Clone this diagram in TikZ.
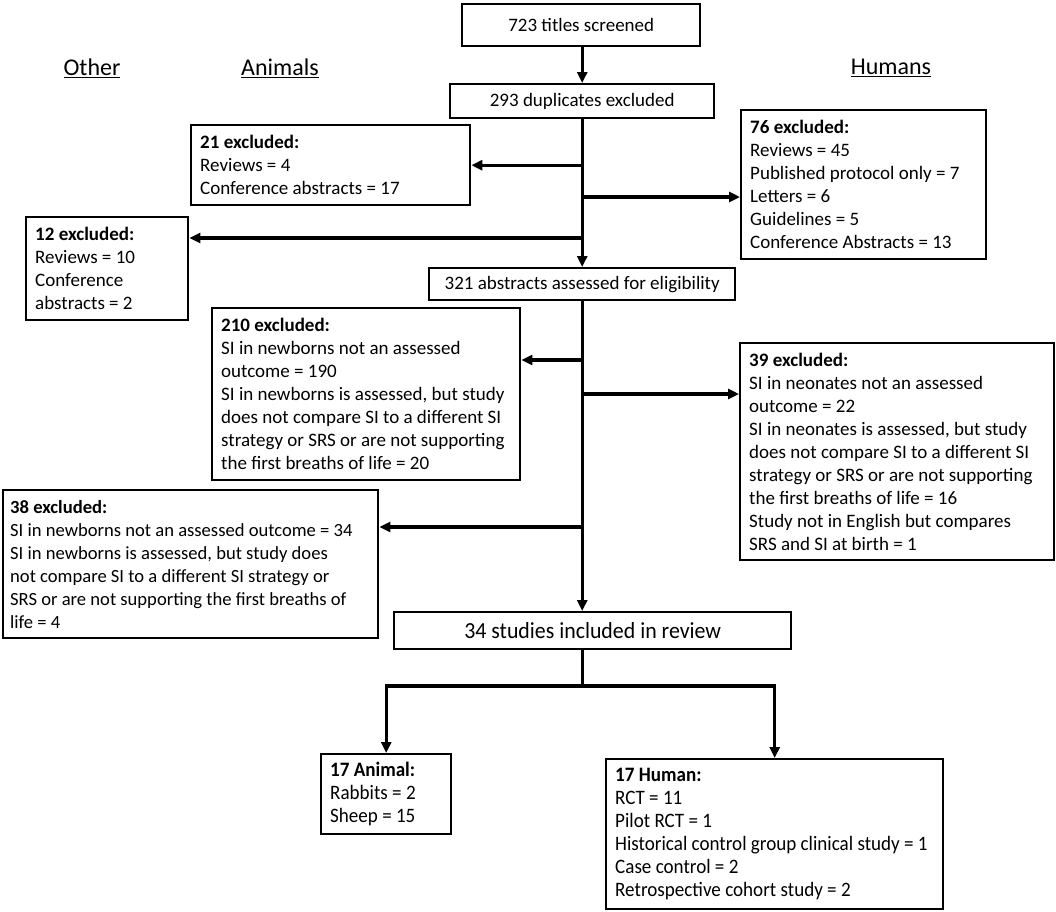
\documentclass[tikz,border=0pt]{standalone}
\usepackage{fontspec}
\setmainfont{Carlito}
\newfontfamily\narrowfont[FakeStretch=0.93]{Carlito}
\newfontfamily\widerfont[FakeStretch=0.95]{Carlito}
\usetikzlibrary{arrows.meta}
\begin{document}
\begin{tikzpicture}[x=1pt,y=-1pt,
  box/.style={draw, line width=2.4pt, rectangle, anchor=north west, align=flush left,
    inner xsep=9pt, inner ysep=0pt, font=\fontsize{19}{23}\selectfont},
  cbox/.style={draw, line width=2.4pt, rectangle, anchor=north west, align=center,
    inner sep=0pt, font=\fontsize{19}{23}\selectfont},
  nbox/.style={box, font=\narrowfont\fontsize{20.5}{23}\selectfont},
  conn/.style={line width=3.2pt},
  arr/.style={line width=3.2pt, -{Triangle[length=11pt,width=10pt]}},
  head/.style={font=\fontsize{24}{28}\selectfont}
]
\useasboundingbox (0,0) rectangle (1056,911);

% headings
\node[head] (hOther) at (92,68) {\underline{Other}};
\node[head] (hAnimals) at (280,68) {\underline{Animals}};
\node[head] (hHumans) at (891,68) {\underline{Humans}};

% main column
\node[cbox, minimum width=238pt, minimum height=42pt] (titles) at (461,3) {723 titles screened};
\node[cbox, minimum width=264pt, minimum height=34pt] (dup) at (449,83) {293 duplicates excluded};
\node[cbox, minimum width=306pt, minimum height=32pt] (abs) at (428,267) {321 abstracts assessed for eligibility};
\node[cbox, minimum width=397pt, minimum height=37pt, font=\widerfont\fontsize{23}{26}\selectfont] (incl) at (393,611) {34 studies included in review};

% exclusion boxes
\node[box, text width=261pt, minimum height=80pt] (ex21) at (190,124)
  {\textbf{21 excluded:}\\Reviews = 4\\Conference abstracts = 17};
\node[box, text width=227pt, minimum height=149pt] (ex76) at (740,109)
  {\textbf{76 excluded:}\\Reviews = 45\\Published protocol only = 7\\Letters = 6\\Guidelines = 5\\Conference Abstracts = 13};
\node[box, text width=144pt, minimum height=103pt] (ex12) at (25,216)
  {\textbf{12 excluded:}\\Reviews = 10\\Conference\\abstracts = 2};
\node[box, text width=290pt, minimum height=172pt] (ex210) at (211,307)
  {\textbf{210 excluded:}\\SI in newborns not an assessed\\outcome = 190\\SI in newborns is assessed, but study\\does not compare SI to a different SI\\strategy or SRS or are not supporting\\the first breaths of life = 20};
\node[box, text width=296pt, minimum height=217pt] (ex39) at (739,342)
  {\textbf{39 excluded:}\\SI in neonates not an assessed\\outcome = 22\\SI in neonates is assessed, but study\\does not compare SI to a different SI\\strategy or SRS or are not supporting\\the first breaths of life = 16\\Study not in English but compares\\SRS and SI at birth = 1};
\node[box, text width=361pt, inner xsep=7pt, minimum height=148pt, font=\fontsize{18.6}{23}\selectfont] (ex38) at (2,489)
  {\textbf{38 excluded:}\\SI in newborns not an assessed outcome = 34\\SI in newborns is assessed, but study does\\not compare SI to a different SI strategy or\\SRS or are not supporting the first breaths of\\life = 4};

% results
\node[nbox, text width=112pt, minimum height=80pt] (ani) at (320,753)
  {\textbf{17 Animal:}\\Rabbits = 2\\Sheep = 15};
\node[nbox, text width=319pt, minimum height=150pt] (hum) at (605,758)
  {\textbf{17 Human:}\\RCT = 11\\Pilot RCT = 1\\Historical control group clinical study = 1\\Case control = 2\\Retrospective cohort study = 2};

% connectors
\draw[arr] (titles.south -| dup.south) -- (dup.north);
\draw[arr] (dup.south) -- (dup.south |- abs.north);
\draw[arr] (dup.south |- ex21.east) -- (ex21.east);
\draw[arr] (dup.south |- 0,197) coordinate (b76) -- (b76 -| ex76.west);
\draw[arr] (dup.south |- 0,238) coordinate (b12) -- (b12 -| ex12.east);
\draw[arr] (abs.south -| dup.south) -- (incl.north -| dup.south);
\draw[arr] (dup.south |- 0,360) coordinate (b210) -- (b210 -| ex210.east);
\draw[arr] (dup.south |- 0,394) coordinate (b39) -- (b39 -| ex39.west);
\draw[arr] (dup.south |- 0,527) coordinate (b38) -- (b38 -| ex38.east);
\coordinate (j) at (dup.south |- 0,686);
\draw[conn] (incl.south -| j) -- (j);
\draw[arr] ([xshift=1.6pt]j) -| (ani.north);
\draw[arr] ([xshift=-1.6pt]j) -| (hum.north);
\end{tikzpicture}
\end{document}
